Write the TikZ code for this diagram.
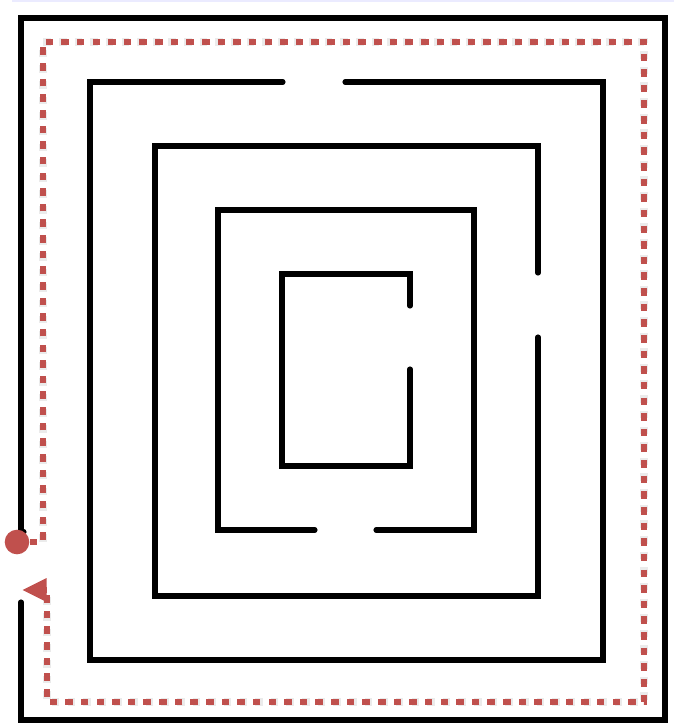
\documentclass[tikz,border=0pt]{standalone}
\usetikzlibrary{arrows.meta,positioning,calc}
\definecolor{pathred}{HTML}{C0504D}
\tikzset{
    wall/.style={line width=2.9pt, line cap=round, line join=miter},
    trail/.style={pathred, line width=3.9pt, dash pattern=on 4.3pt off 4.6pt},
    trailshadow/.style={black!40, opacity=0.2, line width=4.6pt, dash pattern=on 4.3pt off 4.6pt},
}

\begin{document}
\begin{tikzpicture}[x=0.02cm, y=-0.02cm]
    \useasboundingbox (0,0) rectangle (674,725);
    \draw[blue!8, line width=0.6pt] (12,1) -- (674,1);

    % Walls, outside in
    \draw[wall] (24,532) -- (21,532) -- (21,18) -- (665,18) -- (665,720) -- (21,720) -- (21,602);
    \draw[wall] (283,82) -- (90,82) -- (90,660) -- (603,660) -- (603,82) -- (345,82);
    \draw[wall] (538,273) -- (538,146) -- (155,146) -- (155,596) -- (538,596) -- (538,337);
    \draw[wall] (315,530) -- (218,530) -- (218,210) -- (474,210) -- (474,530) -- (376,530);
    \draw[wall] (410,306) -- (410,274) -- (282,274) -- (282,466) -- (410,466) -- (410,369);

    % Trail round the maze
    \node[circle, fill=pathred, inner sep=0pt, minimum size=14pt] (start) at (17,542) {};
    \coordinate (c1) at (43,542);
    \coordinate (c2) at (43,42);
    \coordinate (c3) at (644,42);
    \coordinate (c4) at (644,702);
    \coordinate (c5) at (47,702);
    \coordinate (c6) at (47,590);
    \coordinate (goal) at (22,590);

    \begin{scope}[shift={(1,3)}]
        \draw[trailshadow] (c1) -- (c2) -- (c3) -- (c4) -- (c5) -- (c6);
    \end{scope}
    \draw[trail] (start.east) -- (c1) -- (c2) -- (c3) -- (c4) -- (c5) -- (c6);
    \draw[pathred, line width=3.9pt, -{Triangle[length=14pt, width=12.5pt]}] (c6) -- (goal);
\end{tikzpicture}
\end{document}
